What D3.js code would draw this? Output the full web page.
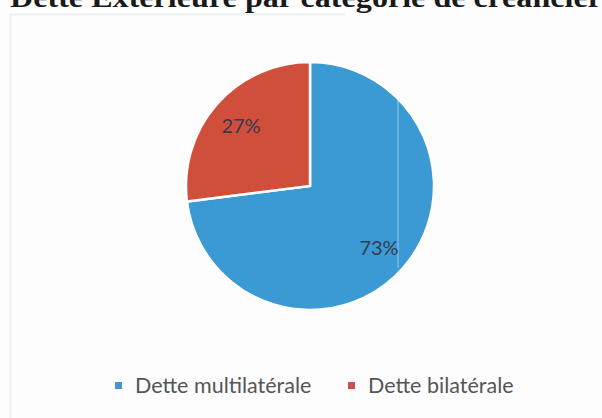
<!DOCTYPE html>
<html>
<head>
<meta charset="utf-8">
<script src="https://cdn.jsdelivr.net/npm/d3@7"></script>
<style>
  body { margin: 0; background: #fdfdfd; }
  svg { display: block; }
</style>
</head>
<body>
<svg id="paper"></svg>
<script>
// chart data
const categories = ["Dette multilatérale", "Dette bilatérale"];
const shares = [73, 27];
const sliceColors = ["#3b9ad3", "#cf4f3b"];
const legendColors = ["#4a94c8", "#cf4f4a"];
const title = "Dette Extérieure par catégorie de créancier";

// dimensions
var width = 602, height = 418;
var cx = 310, cy = 186, radius = 124;

var svg = d3.select("#paper")
    .attr("width", width)
    .attr("height", height);

// light frame of the chart area (left and top edges)
svg.append("path")
    .attr("d", "M10.5," + height + "V14.5H345")
    .attr("fill", "none")
    .attr("stroke", "#ebf1f3")
    .attr("stroke-width", 2);

// title, cut at the top of the picture as in the scan
svg.append("text")
    .attr("x", 10)
    .attr("y", 7)
    .attr("textLength", 592)
    .attr("lengthAdjust", "spacingAndGlyphs")
    .style("font-family", "'Liberation Serif', 'Times New Roman', serif")
    .style("font-weight", "bold")
    .style("font-size", "27px")
    .style("fill", "#1a1a1a")
    .text(title);

var color = d3.scaleOrdinal().domain(categories).range(sliceColors);

var pie = d3.pie().sort(null).value(d => d.value);
var data = categories.map((c, i) => ({name: c, value: shares[i]}));
var arcs = pie(data);

var arc = d3.arc().innerRadius(0).outerRadius(radius);
var labelArc = d3.arc().innerRadius(92).outerRadius(92);

var g = svg.append("g")
    .attr("transform", "translate(" + cx + "," + cy + ")");

g.selectAll(".slice")
    .data(arcs)
    .enter().append("path")
    .attr("class", "slice")
    .attr("d", arc)
    .attr("fill", d => color(d.data.name))
    .attr("stroke", "#ffffff")
    .attr("stroke-width", 2.5)
    .attr("stroke-linejoin", "miter");

// faint scan line crossing the pie
g.append("line")
    .attr("x1", 88).attr("x2", 88)
    .attr("y1", -106).attr("y2", 82)
    .attr("stroke", "#ffffff")
    .attr("stroke-opacity", 0.45)
    .attr("stroke-width", 1);

g.selectAll(".lbl")
    .data(arcs)
    .enter().append("text")
    .attr("class", "lbl")
    .attr("transform", d => "translate(" + labelArc.centroid(d) + ")")
    .attr("text-anchor", "middle")
    .attr("dominant-baseline", "central")
    .style("font-family", "Lato, 'Open Sans', sans-serif")
    .style("font-size", "20px")
    .style("fill", "#363a52")
    .text(d => d.data.value + "%");

// legend
var legendX = d3.scalePoint().domain(categories).range([115, 348]);

var leg = svg.selectAll(".legend")
    .data(categories)
    .enter().append("g")
    .attr("class", "legend")
    .attr("transform", d => "translate(" + legendX(d) + ",385)");

leg.append("rect")
    .attr("x", 0).attr("y", -3)
    .attr("width", 7).attr("height", 7)
    .attr("fill", (d, i) => legendColors[i]);

leg.append("text")
    .attr("x", 20)
    .attr("y", 7.5)
    .style("font-family", "Lato, 'Open Sans', sans-serif")
    .style("font-size", "21.5px")
    .style("fill", "#555555")
    .text(d => d);
</script>
</body>
</html>
